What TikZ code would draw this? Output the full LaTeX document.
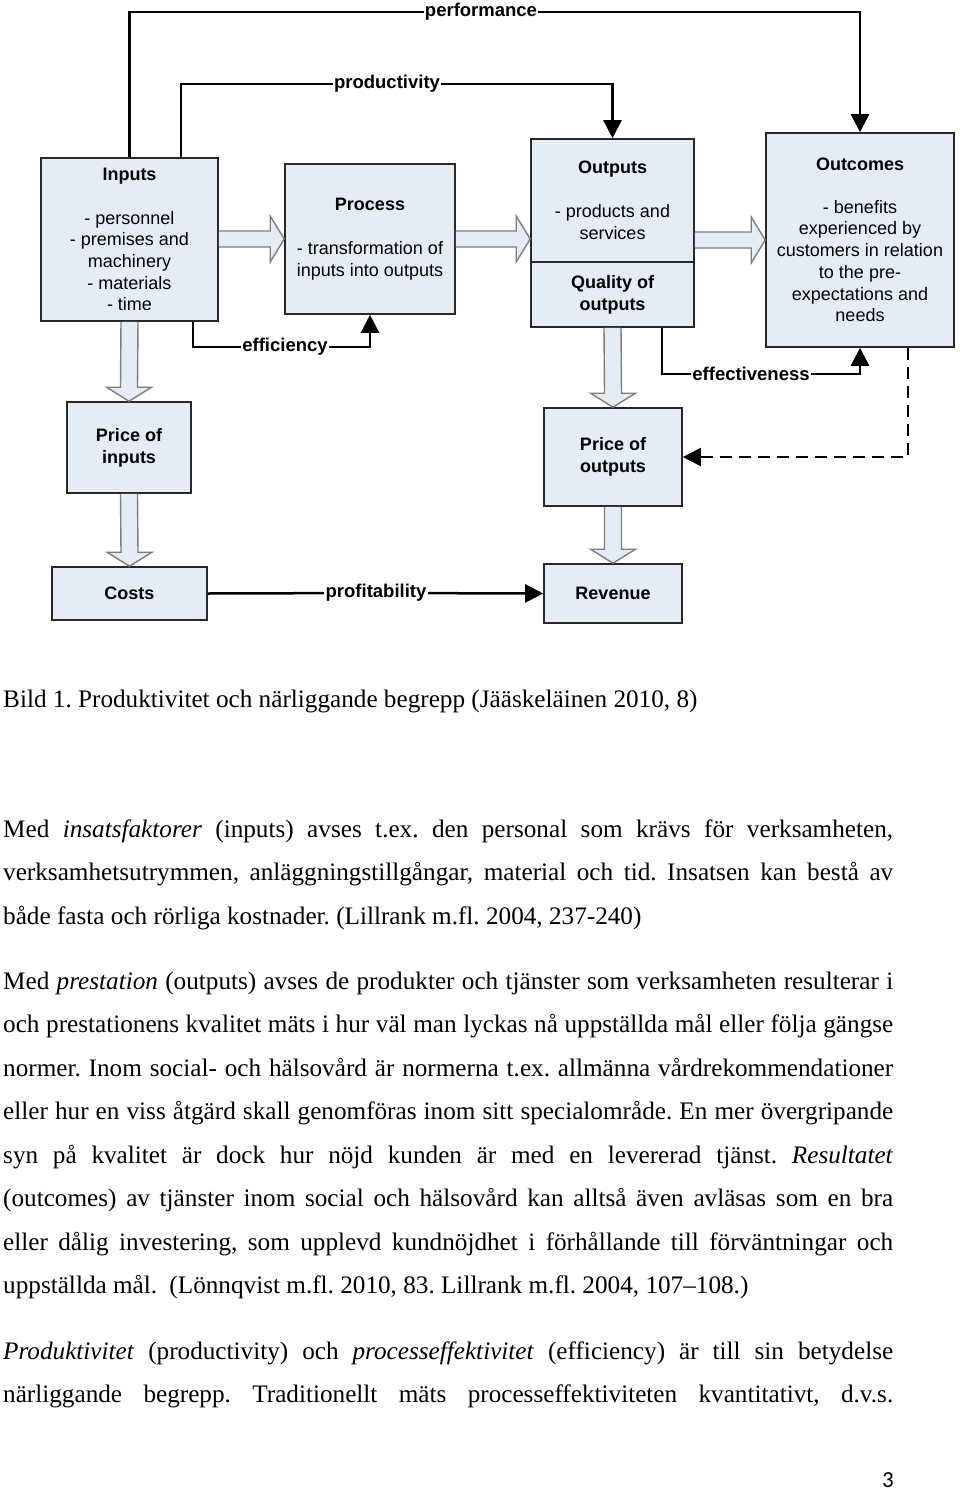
\documentclass[tikz,border=0pt]{standalone}
\usepackage{fontspec}
\setmainfont{Liberation Serif}
\newfontfamily\arialf{Liberation Sans}
\newfontfamily\calf{Carlito}
\usetikzlibrary{arrows.meta}
\definecolor{boxfill}{RGB}{230,236,246}
\definecolor{boxline}{RGB}{40,40,40}
\definecolor{fatline}{RGB}{125,125,125}
\newcommand\fatH[2]{\draw[fat] ([yshift=8pt]#1) -- ([xshift=-14pt,yshift=8pt]#2) -- ([xshift=-14pt,yshift=23pt]#2) -- (#2) -- ([xshift=-14pt,yshift=-23pt]#2) -- ([xshift=-14pt,yshift=-8pt]#2) -- ([yshift=-8pt]#1);}
\newcommand\fatV[2]{\draw[fat] ([xshift=-8.5pt]#1) -- ([xshift=-8.5pt,yshift=14pt]#2) -- ([xshift=-22.5pt,yshift=14pt]#2) -- (#2) -- ([xshift=22.5pt,yshift=14pt]#2) -- ([xshift=8.5pt,yshift=14pt]#2) -- ([xshift=8.5pt]#1);}
\frenchspacing
\begin{document}
\begin{tikzpicture}[x=1pt,y=-1pt,
  box/.style={draw=boxline,line width=1.6pt,fill=boxfill,align=center,inner sep=0pt,font=\arialf\fontsize{18}{21.7}\selectfont},
  lbl/.style={fill=white,inner sep=1.2pt,font=\arialf\bfseries\fontsize{18.5}{21.7}\selectfont},
  conn/.style={line width=2.5pt,black},
  arrowtip/.style={-{Triangle[length=18pt,width=18pt]}},
  fat/.style={draw=fatline,line width=1.4pt,fill=boxfill,line join=miter},
  bodyline/.style={anchor=base west,inner sep=0pt,font=\frenchspacing\fontsize{25.2}{30}\selectfont},
]
\useasboundingbox[fill=white] (0,0) rectangle (960,1490);

% boxes
\node[box,minimum width=177pt,minimum height=163pt] (in) at (129.5,239.5)
  {{\bfseries Inputs}\\[22pt]- personnel\\- premises and\\machinery\\- materials\\- time};
\node[box,minimum width=170pt,minimum height=150pt] (pr) at (370,239)
  {{\bfseries Process}\\[22pt]- transformation of\\inputs into outputs};
\node[box,minimum width=163pt,minimum height=123pt] (outtop) at (612.5,200.5)
  {{\bfseries Outputs}\\[22pt]- products and\\services};
\node[box,minimum width=163pt,minimum height=65pt] (outbot) at (612.5,294.5)
  {\bfseries Quality of\\\bfseries outputs};
\node[box,minimum width=188pt,minimum height=214pt] (oc) at (860,240)
  {{\bfseries Outcomes}\\[21pt]- benefits\\experienced by\\customers in relation\\to the pre-\\expectations and\\needs};
\node[box,minimum width=124pt,minimum height=91pt] (pi) at (129,447.5)
  {\bfseries Price of\\\bfseries inputs};
\node[box,minimum width=155pt,minimum height=53pt] (co) at (129.5,593.5)
  {\bfseries Costs};
\node[box,minimum width=138pt,minimum height=98pt] (po) at (613,457)
  {\bfseries Price of\\\bfseries outputs};
\node[box,minimum width=138pt,minimum height=59pt] (re) at (613,593.5)
  {\bfseries Revenue};

% fat arrows
\coordinate (f1s) at (in.east |- pr.west);
\coordinate (f1t) at (pr.west);
\coordinate (f2s) at (pr.east);
\coordinate (f2t) at (outtop.west |- pr.east);
\coordinate (f3s) at (outtop.east |- oc.west);
\coordinate (f3t) at (oc.west);
\fatH{f1s}{f1t}
\fatH{f2s}{f2t}
\fatH{f3s}{f3t}
\coordinate (v1s) at (in.south);
\coordinate (v1t) at (pi.north);
\coordinate (v2s) at (pi.south);
\coordinate (v2t) at (co.north);
\coordinate (v3s) at (outbot.south);
\coordinate (v3t) at (po.north);
\coordinate (v4s) at (po.south);
\coordinate (v4t) at (re.north);
\fatV{v1s}{v1t}
\fatV{v2s}{v2t}
\fatV{v3s}{v3t}
\fatV{v4s}{v4t}

% labels
\node[lbl] (perf) at (481,12) {performance};
\node[lbl] (prod) at (387,84) {productivity};
\node[lbl] (eff) at (285,347) {efficiency};
\node[lbl] (effv) at (751,374) {effectiveness};
\node[lbl] (prof) at (376,593) {profitability};

% connectors
\draw[conn,arrowtip] (in.north) |- (perf) -| (oc.north);
\draw[conn,arrowtip] ([xshift=51.5pt]in.north) |- (prod) -| (outtop.north);
\draw[conn,arrowtip] ([xshift=63.5pt]in.south) |- (eff) -| (pr.south);
\draw[conn,arrowtip] ([xshift=49.5pt]outbot.south) |- (effv) -| (oc.south);
\draw[conn,arrowtip] (co.east) -- (prof) -- (re.west);
\draw[line width=2pt,dash pattern=on 12pt off 7pt,arrowtip] ([xshift=48pt]oc.south) |- (po.east);

% text
\node[bodyline] (cap) at (3,707) {Bild 1. Produktivitet och närliggande begrepp (Jääskeläinen 2010, 8)};

\node[bodyline] (a1) at (3,837) {\makebox[890pt][s]{Med \textit{insatsfaktorer} (inputs) avses t.ex. den personal som krävs för verksamheten,}};
\node[bodyline] (a2) at (3,880.5) {\makebox[890pt][s]{verksamhetsutrymmen, anläggningstillgångar, material och tid. Insatsen kan bestå av}};
\node[bodyline] (a3) at (3,924) {både fasta och rörliga kostnader. (Lillrank m.fl. 2004, 237-240)};

\node[bodyline] (b1) at (3,989) {\makebox[890pt][s]{Med \textit{prestation} (outputs) avses de produkter och tjänster som verksamheten resulterar i}};
\node[bodyline] (b2) at (3,1032.5) {\makebox[890pt][s]{och prestationens kvalitet mäts i hur väl man lyckas nå uppställda mål eller följa gängse}};
\node[bodyline] (b3) at (3,1076) {\makebox[890pt][s]{normer. Inom social- och hälsovård är normerna t.ex. allmänna vårdrekommendationer}};
\node[bodyline] (b4) at (3,1119.5) {\makebox[890pt][s]{eller hur en viss åtgärd skall genomföras inom sitt specialområde. En mer övergripande}};
\node[bodyline] (b5) at (3,1163) {\makebox[890pt][s]{syn på kvalitet är dock hur nöjd kunden är med en levererad tjänst. \textit{Resultatet}}};
\node[bodyline] (b6) at (3,1206.5) {\makebox[890pt][s]{(outcomes) av tjänster inom social och hälsovård kan alltså även avläsas som en bra}};
\node[bodyline] (b7) at (3,1250) {\makebox[890pt][s]{eller dålig investering, som upplevd kundnöjdhet i förhållande till förväntningar och}};
\node[bodyline] (b8) at (3,1293.5) {uppställda mål.\hspace{6pt} (Lönnqvist m.fl. 2010, 83. Lillrank m.fl. 2004, 107–108.)};

\node[bodyline] (c1) at (3,1359) {\makebox[890pt][s]{\textit{Produktivitet} (productivity) och \textit{processeffektivitet} (efficiency) är till sin betydelse}};
\node[bodyline] (c2) at (3,1402.5) {\makebox[890pt][s]{närliggande begrepp. Traditionellt mäts processeffektiviteten kvantitativt, d.v.s.}};

\node[anchor=base east,inner sep=0pt,font=\calf\fontsize{23}{27}\selectfont] (pg) at (894,1487) {3};
\end{tikzpicture}
\end{document}
